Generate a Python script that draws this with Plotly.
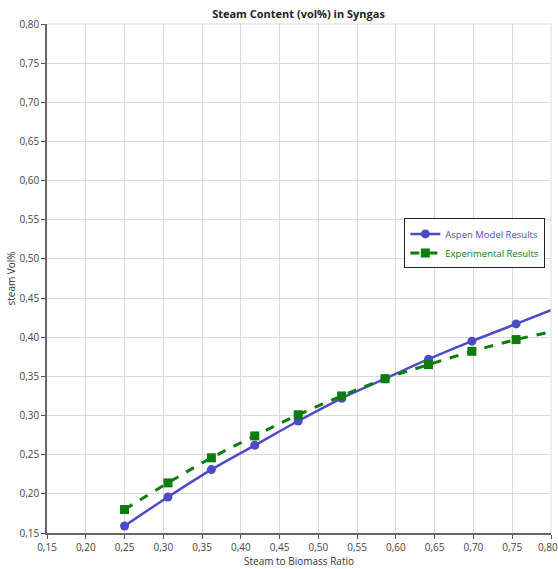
import plotly.graph_objects as go

ratio = [0.25, 0.306, 0.362, 0.418, 0.474, 0.530, 0.586, 0.642, 0.698, 0.755]
aspen = [0.159, 0.196, 0.231, 0.262, 0.293, 0.322, 0.347, 0.372, 0.395, 0.417]
experimental = [0.180, 0.214, 0.246, 0.274, 0.301, 0.325, 0.347, 0.365, 0.382, 0.397]
# next values just past the right edge (line runs off the plot)
ratio_next = 0.811
aspen_next = 0.439
experimental_next = 0.409

x_ticks = [round(0.15 + 0.05 * i, 2) for i in range(14)]
y_ticks = [round(0.15 + 0.05 * i, 2) for i in range(14)]
x_ticktext = [f"{v:.2f}".replace(".", ",") for v in x_ticks]

blue = "#4b4bc8"
green = "#0a7d0a"

fig = go.Figure()
fig.add_trace(go.Scatter(
    x=ratio + [ratio_next], y=aspen + [aspen_next],
    mode="lines+markers", line=dict(color=blue, width=2.5, shape="spline"),
    marker=dict(symbol="circle", size=9, color=blue),
    name="<span style='color:#4b4bc8'>Aspen Model Results</span>",
))
fig.add_trace(go.Scatter(
    x=ratio + [ratio_next], y=experimental + [experimental_next],
    mode="lines+markers", line=dict(color=green, width=3, dash="dash", shape="spline"),
    marker=dict(symbol="square", size=9, color=green),
    name="<span style='color:#0a7d0a'>Experimental Results</span>",
))

tickfont = dict(family="Open Sans", size=10, color="#444")
axis_common = dict(
    showgrid=True, gridcolor="#d9d9d9", gridwidth=1,
    zeroline=False, tickformat=".2f",
    ticks="outside", ticklen=4, tickcolor="#555",
    showline=True, linecolor="#666", linewidth=1.5,
    tickfont=tickfont, automargin=False,
)

fig.update_layout(
    width=558, height=569,
    margin=dict(l=46.5, r=7.3, t=24.3, b=35.7, autoexpand=False),
    paper_bgcolor="white", plot_bgcolor="white",
    separators=", ",
    font=dict(family="Open Sans", size=10, color="#333"),
    title=dict(text="<b>Steam Content (vol%) in Syngas</b>", x=0.535, xanchor="center",
               y=0.975, yanchor="middle", font=dict(family="Open Sans", size=11, color="#222")),
    xaxis=dict(range=[0.15, 0.80], tickvals=x_ticks,
               ticktext=x_ticktext[:-1] + [""], **axis_common,
               title=dict(text="Steam to Biomass Ratio", standoff=4,
                          font=dict(family="Open Sans", size=10, color="#333"))),
    yaxis=dict(range=[0.15, 0.80], tickvals=y_ticks, **axis_common,
               title=dict(text="steam Vol%", standoff=2,
                          font=dict(family="Open Sans", size=10, color="#333"))),
    legend=dict(x=0.709, y=0.618, xanchor="left", yanchor="top",
                bgcolor="white", bordercolor="#222", borderwidth=1,
                font=dict(family="Open Sans", size=9.5), tracegroupgap=0,
                itemwidth=30),
    showlegend=True,
)

# last x tick label, kept inside the page edge
fig.add_annotation(x=x_ticks[-1], xref="x", y=0, yref="paper", text=x_ticktext[-1],
                   showarrow=False, xanchor="center", yanchor="top", yshift=-5,
                   xshift=-3, font=tickfont)

# light top/right frame
fig.add_shape(type="line", xref="paper", yref="paper", x0=0, x1=1, y0=1, y1=1,
              line=dict(color="#d9d9d9", width=1))
fig.add_shape(type="line", xref="paper", yref="paper", x0=1, x1=1, y0=0, y1=1,
              line=dict(color="#d9d9d9", width=1))

fig.write_html("out.html")
